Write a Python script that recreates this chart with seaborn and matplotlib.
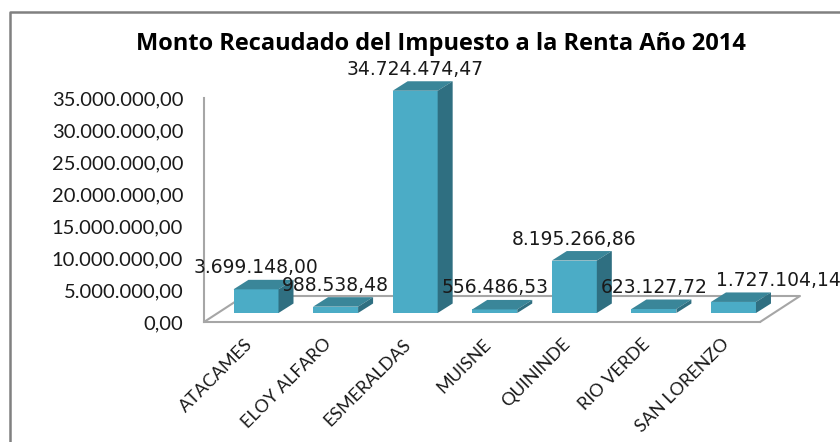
import numpy as np
import matplotlib
matplotlib.use('Agg')
import matplotlib.pyplot as plt
import seaborn as sns
from matplotlib.patches import Polygon
from matplotlib.lines import Line2D
from matplotlib.ticker import FuncFormatter
from matplotlib.transforms import ScaledTranslation

# Data
cantones = ['ATACAMES', 'ELOY ALFARO', 'ESMERALDAS', 'MUISNE',
            'QUININDE', 'RIO VERDE', 'SAN LORENZO']
montos = [3699148.00, 988538.48, 34724474.47, 556486.53,
          8195266.86, 623127.72, 1727104.14]
y_ticks = [0, 5e6, 10e6, 15e6, 20e6, 25e6, 30e6, 35e6]
titulo = 'Monto Recaudado del Impuesto a la Renta Año 2014'

front_col = '#4BACC6'
top_col = '#3A8699'
side_col = '#2F6F81'
line_col = '#A6A6A6'

sns.set_style('white')
plt.rcParams['font.family'] = ['Lato', 'DejaVu Sans']


def es_fmt(v, pos=None):
    # Spanish number style: 1.234.567,89
    s = f'{v:,.2f}'
    return s.replace(',', 'X').replace('.', ',').replace('X', '.')


W, H = 840, 442
fig = plt.figure(figsize=(W / 100, H / 100), dpi=100)

# axes placed in pixel terms (front plane of the 3D box)
ax_l, ax_r, ax_b, ax_t = 204, 760, 322, 98
ax = fig.add_axes([ax_l / W, 1 - ax_b / H, (ax_r - ax_l) / W, (ax_b - ax_t) / H])

px_per_cat = 79.58
x0_px = 256
xmin = -(x0_px - ax_l) / px_per_cat
xmax = (ax_r - x0_px) / px_per_cat
ymax = 35e6

ypx = ymax / (ax_b - ax_t)      # data units per pixel (y)
xpx = 1 / px_per_cat            # data units per pixel (x)

bar_w = 45 * xpx
base = 9 * ypx                  # bars sit a bit back on the floor
ddx, ddy = 15 * xpx, 9.5 * ypx  # bar depth
fdx, fdy = 40 * xpx, 26 * ypx   # floor depth

sns.barplot(x=cantones, y=montos, color=front_col, saturation=1,
            width=bar_w, ax=ax, edgecolor='none', zorder=3)
ax.set_xlim(xmin, xmax)
ax.set_ylim(0, ymax)

# floor outline
ax.add_line(Line2D([xmin, xmin + fdx, xmax + fdx, xmax],
                   [0, fdy, fdy, 0], color=line_col, lw=1.5,
                   clip_on=False, zorder=1))

bars = list(ax.patches)
n = len(bars)
for i, p in enumerate(bars):
    p.set_y(base)
    p.set_clip_on(False)
    x1 = p.get_x()
    x2 = x1 + p.get_width()
    top = base + p.get_height()
    ax.add_patch(Polygon([(x1, top), (x2, top), (x2 + ddx, top + ddy), (x1 + ddx, top + ddy)],
                         closed=True, facecolor=top_col, edgecolor='none',
                         clip_on=False, zorder=3))
    ax.add_patch(Polygon([(x2, base), (x2, top), (x2 + ddx, top + ddy), (x2 + ddx, base + ddy)],
                         closed=True, facecolor=side_col, edgecolor='none',
                         clip_on=False, zorder=3))
    last = i == n - 1
    ax.annotate(es_fmt(montos[i]),
                xy=(x1 + 5 * xpx if last else (x1 + x2) / 2, top + ddy),
                xytext=(0, 8.6), textcoords='offset points',
                ha='left' if last else 'center', va='center',
                fontsize=13.5, family='DejaVu Sans', color='#1a1a1a',
                zorder=5, annotation_clip=False)

for s in ['top', 'right']:
    ax.spines[s].set_visible(False)
for s in ['left', 'bottom']:
    ax.spines[s].set_visible(True)
    ax.spines[s].set_color(line_col)
    ax.spines[s].set_linewidth(1.5)
    ax.spines[s].set_zorder(1)

ax.set_yticks(y_ticks)
ax.yaxis.set_major_formatter(FuncFormatter(es_fmt))
ax.tick_params(axis='y', length=0, pad=15, labelsize=14.5, labelcolor='#1a1a1a')
ax.tick_params(axis='x', length=0, pad=10, labelsize=13, labelcolor='#1a1a1a')
ax.set_xlabel('')
ax.set_ylabel('')
ax.grid(False)

shift = ScaledTranslation(-12 / 100, 0, fig.dpi_scale_trans)
for lbl in ax.get_xticklabels():
    lbl.set_rotation(45)
    lbl.set_ha('right')
    lbl.set_va('top')
    lbl.set_rotation_mode('anchor')
    lbl.set_transform(lbl.get_transform() + shift)

fig.text(441 / W, 1 - 44 / H, titulo, ha='center', va='center',
         fontsize=17, fontweight='bold', family='Open Sans', color='#000000')

# outer chart border (cropped at right and bottom)
fig.add_artist(Line2D([10 / W, 10 / W, 1], [0, 1 - 12 / H, 1 - 12 / H],
                      transform=fig.transFigure, color='#808080', lw=1.8))

fig.savefig('out.png', dpi=100)
